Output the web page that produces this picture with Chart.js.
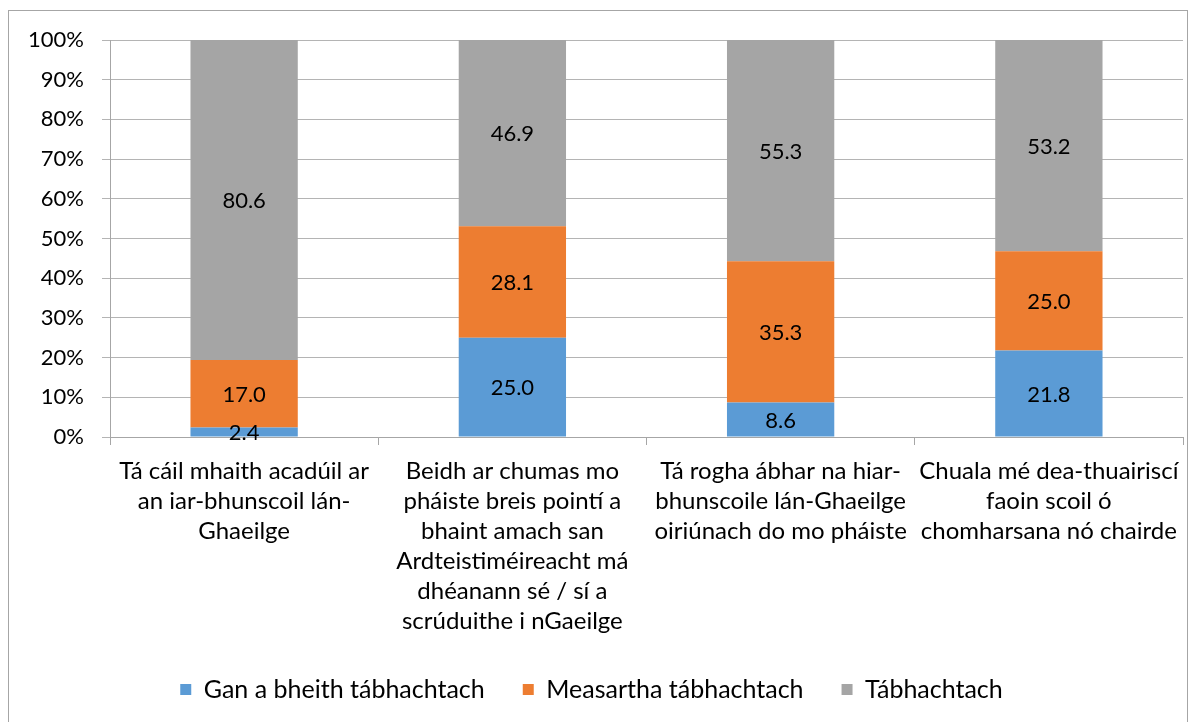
<!DOCTYPE html>
<html>
<head>
<meta charset="utf-8">
<script src="https://cdn.jsdelivr.net/npm/chart.js@4"></script>
<style>
  html, body { margin: 0; padding: 0; background: #fff; }
  #frame { position: absolute; left: 8px; top: 10px; width: 1180px; height: 730px; border: 1px solid #a6a6a6; box-sizing: border-box; }
  #wrap { position: absolute; left: 0; top: 0; width: 1198px; height: 722px; }
</style>
</head>
<body>
<div id="frame"></div>
<div id="wrap"><canvas id="chart" width="1198" height="722"></canvas></div>
<script>
const categories = [
  ["Tá cáil mhaith acadúil ar", "an iar-bhunscoil lán-", "Ghaeilge"],
  ["Beidh ar chumas mo", "pháiste breis pointí a", "bhaint amach san", "Ardteistiméireacht má", "dhéanann sé / sí a", "scrúduithe i nGaeilge"],
  ["Tá rogha ábhar na hiar-", "bhunscoile lán-Ghaeilge", "oiriúnach do mo pháiste"],
  ["Chuala mé dea-thuairiscí", "faoin scoil ó", "chomharsana nó chairde"]
];
const seriesNames = ["Gan a bheith tábhachtach", "Measartha tábhachtach", "Tábhachtach"];
const notImportant = [2.4, 25.0, 8.6, 21.8];
const moderate = [17.0, 28.1, 35.3, 25.0];
const important = [80.6, 46.9, 55.3, 53.2];
const yTicks = [0, 10, 20, 30, 40, 50, 60, 70, 80, 90, 100];

const colors = ["#5b9bd5", "#ed7d31", "#a5a5a5"];
const FONT = "Lato, 'Noto Sans', sans-serif";
const raw = [notImportant, moderate, important];
// 100% stacked: share of each category total
const totals = categories.map((_, i) => raw.reduce((s, arr) => s + arr[i], 0));

const labelPlugin = {
  id: "segLabels",
  afterDatasetsDraw(chart) {
    const ctx = chart.ctx;
    ctx.save();
    ctx.font = "22px " + FONT;
    ctx.fillStyle = "#000";
    ctx.textAlign = "center";
    ctx.textBaseline = "middle";
    chart.data.datasets.forEach((ds, di) => {
      chart.getDatasetMeta(di).data.forEach((bar, i) => {
        const mid = (bar.y + bar.base) / 2;
        ctx.fillText(raw[di][i].toFixed(1), bar.x, mid + 1);
      });
    });
    ctx.restore();
  }
};

new Chart(document.getElementById("chart"), {
  type: "bar",
  data: {
    labels: categories,
    datasets: raw.map((arr, di) => ({
      label: seriesNames[di],
      data: arr.map((v, i) => v / totals[i] * 100),
      backgroundColor: colors[di],
      borderWidth: 0,
      categoryPercentage: 1,
      barPercentage: 0.4
    }))
  },
  options: {
    responsive: false,
    animation: false,
    layout: { padding: { top: 40, right: 15, left: 0, bottom: 10 } },
    plugins: {
      legend: {
        position: "bottom",
        labels: {
          font: { family: FONT, size: 25 },
          color: "#000",
          boxWidth: 11,
          boxHeight: 11,
          padding: 38
        }
      },
      tooltip: { enabled: false }
    },
    scales: {
      x: {
        stacked: true,
        afterFit(scale) { scale.height = 202; },
        grid: { drawOnChartArea: false, drawTicks: true, tickLength: 8, color: "#a6a6a6", offset: true },
        border: { color: "#a6a6a6" },
        ticks: { font: { family: FONT, size: 24, lineHeight: 1.25 }, color: "#000", maxRotation: 0, autoSkip: false, padding: 11 }
      },
      y: {
        stacked: true,
        min: 0,
        max: 100,
        afterFit(scale) { scale.width = 110; },
        afterBuildTicks(scale) { scale.ticks = yTicks.map(v => ({ value: v })); },
        grid: { color: "#b4b4b4", tickLength: 8 },
        border: { color: "#a6a6a6" },
        ticks: { font: { family: FONT, size: 22 }, color: "#000", padding: 18, callback: v => v + "%" }
      }
    }
  },
  plugins: [labelPlugin]
});
</script>
</body>
</html>
